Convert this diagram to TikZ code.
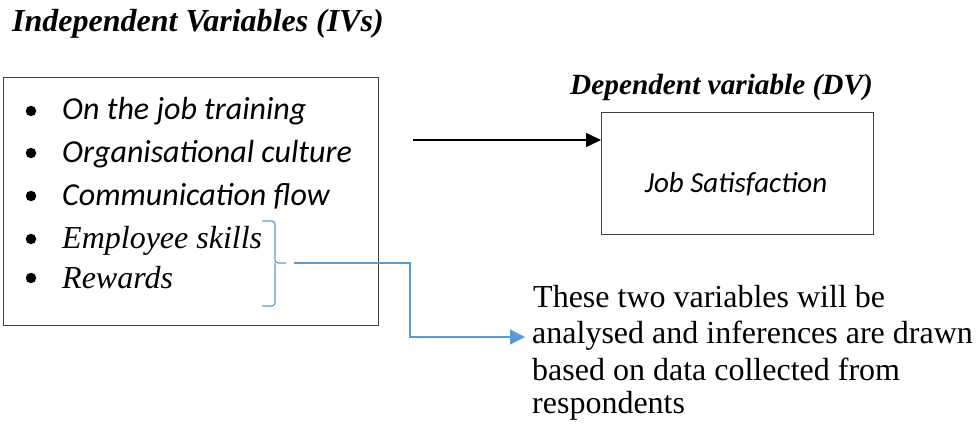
\documentclass[tikz,border=0pt]{standalone}
\usepackage{fontspec}
\setmainfont{Liberation Serif}
\newfontfamily\calib{Carlito}
\usetikzlibrary{arrows.meta}
\definecolor{linkblue}{RGB}{91,155,213}
\begin{document}
\begin{tikzpicture}[x=1pt,y=-1pt,
  heading/.style={font=\fontsize{32}{36}\selectfont\bfseries\itshape, anchor=base west, inner sep=0},
  boxframe/.style={draw=black!75, line width=1.3pt},
  itemsans/.style={font=\calib\fontsize{32}{36}\selectfont\itshape, anchor=base west, inner sep=0},
  itemserif/.style={font=\fontsize{32}{36}\selectfont\itshape, anchor=base west, inner sep=0},
  dot/.style={circle, fill=black, inner sep=0, minimum size=10.5pt},
  note/.style={font=\fontsize{32}{36}\selectfont, anchor=base west, inner sep=0},
  bluepath/.style={draw=linkblue, line width=1.2pt}
]
\useasboundingbox (0,0) rectangle (979,425);

% headings
\node[heading] (ivhead) at (12,32) {Independent Variables (IVs)};
\node[heading, font=\fontsize{29.3}{34}\selectfont\bfseries\itshape] (dvhead) at (570,95) {Dependent variable (DV)};

% independent variables box
\node[boxframe, anchor=north west, minimum width=375pt, minimum height=248pt, inner sep=0] (ivbox) at (3,77) {};
\foreach \y/\n in {111/a,153/b,196/c,239/d,278/e}
  \node[dot] (dot\n) at (31,\y) {};
\node[itemsans] (ita) at (62,120) {On the job training};
\node[itemsans] (itb) at (62,162) {Organisational culture};
\node[itemsans] (itc) at (62,205) {Communication flow};
\node[itemserif] (itd) at (62,248) {Employee skills};
\node[itemserif] (ite) at (62,288) {Rewards};

% dependent variable box
\node[boxframe, anchor=north west, minimum width=272pt, minimum height=122pt, inner sep=0] (dvbox) at (601,112) {};
\node[font=\calib\fontsize{29}{33}\selectfont\itshape, anchor=base, inner sep=0] (dvtext) at (736,192) {Job Satisfaction};

% main relation arrow
\coordinate (arrstart) at (413,140);
\draw[line width=1.3pt, -{Triangle[length=15pt,width=14pt]}] (arrstart) -- (dvbox.west |- arrstart);

% brace grouping the last two variables
\coordinate (bracetip) at (286,263);
\draw[bluepath, rounded corners=3pt] (262,221) -- (275,221) -- (275,263) -- (bracetip);
\draw[bluepath, rounded corners=3pt] (262,306) -- (275,306) -- (275,263);

% note text
\node[note] (n1) at (533,307) {These two variables will be};
\node[note] (n2) at (532,343) {analysed and inferences are drawn};
\node[note] (n3) at (532,380) {based on data collected from};
\node[note] (n4) at (532,413) {respondents};

% connector from brace to note
\coordinate (linkstart) at (294,263);
\draw[bluepath, -{Triangle[length=15pt,width=15pt]}] (linkstart) -- (410,263) -- (410,337) -- ([xshift=-7pt]n2.west |- 0,337);
\end{tikzpicture}
\end{document}
